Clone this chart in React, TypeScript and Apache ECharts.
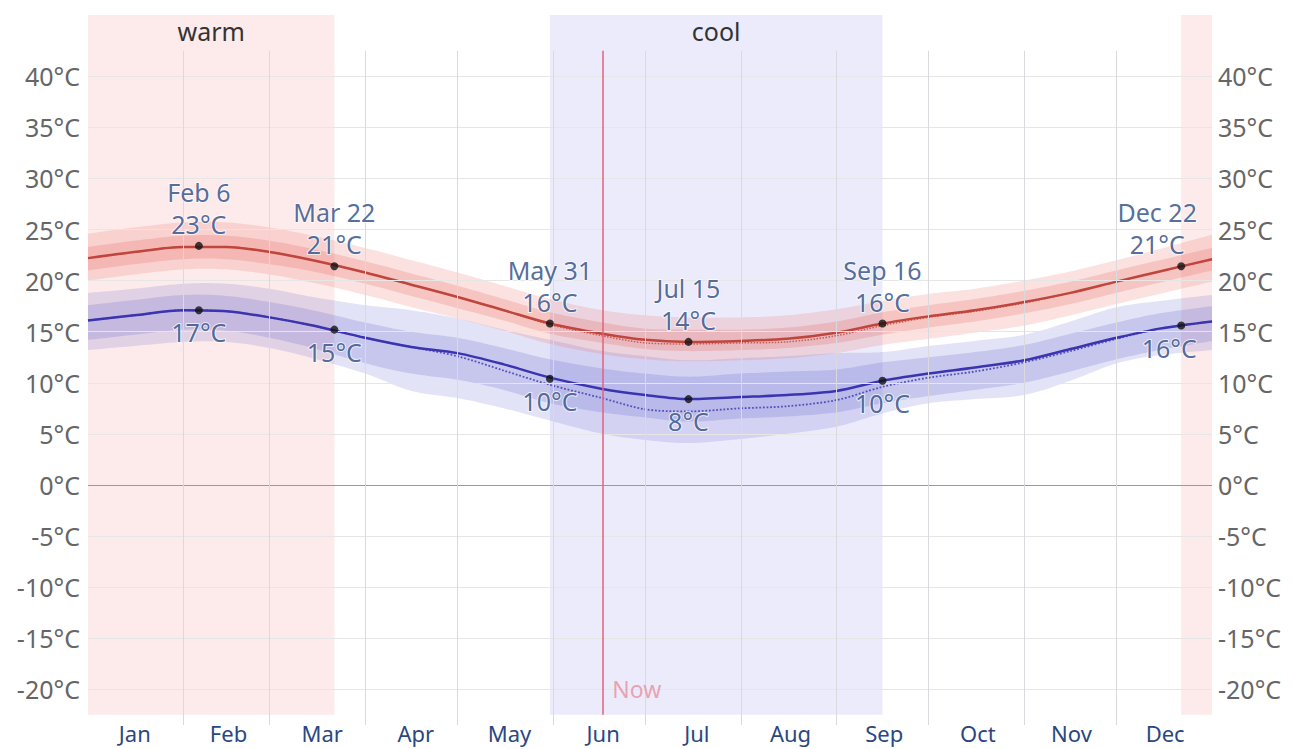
import React, { useEffect, useRef } from "react";
import * as echarts from "echarts";

// ---- data ----
const DAYS = [0, 15, 31, 45, 59, 73, 90, 105, 120, 135, 150, 167, 181, 195, 212, 227, 243, 258, 273, 288, 304, 319, 334, 348, 365];

const HI_MEAN = [22.2, 22.8, 23.3, 23.3, 22.8, 22.0, 20.8, 19.6, 18.4, 17.1, 15.8, 14.8, 14.2, 14.0, 14.1, 14.3, 14.9, 15.8, 16.5, 17.1, 17.9, 18.8, 19.9, 20.9, 22.1];
const HI_RECENT = [22.2, 22.8, 23.3, 23.3, 22.8, 22.0, 20.8, 19.6, 18.4, 17.1, 15.7, 14.6, 13.9, 13.8, 13.9, 14.0, 14.6, 15.6, 16.4, 17.0, 17.8, 18.8, 19.9, 20.9, 22.1];
const HI_P90 = [24.6, 25.2, 25.7, 25.7, 25.2, 24.4, 23.2, 22.0, 20.8, 19.5, 18.2, 17.1, 16.6, 16.4, 16.4, 16.6, 17.2, 18.0, 18.7, 19.2, 20.0, 20.9, 22.0, 23.1, 24.5];
const HI_P75 = [23.3, 23.9, 24.4, 24.4, 23.9, 23.1, 21.9, 20.7, 19.5, 18.2, 16.9, 15.9, 15.3, 15.2, 15.2, 15.4, 16.0, 16.9, 17.6, 18.2, 19.0, 19.9, 21.0, 22.0, 23.2];
const HI_P25 = [21.0, 21.6, 22.1, 22.1, 21.6, 20.9, 19.7, 18.5, 17.3, 16.1, 14.8, 13.9, 13.3, 13.1, 13.2, 13.4, 13.9, 14.7, 15.4, 16.0, 16.8, 17.7, 18.8, 19.8, 21.0];
const HI_P10 = [20.0, 20.6, 21.1, 21.1, 20.6, 19.8, 18.6, 17.4, 16.3, 15.1, 13.8, 12.8, 12.3, 12.1, 12.2, 12.4, 12.9, 13.7, 14.3, 14.9, 15.6, 16.6, 17.7, 18.7, 19.9];

const LO_MEAN = [16.1, 16.6, 17.1, 17.0, 16.4, 15.6, 14.4, 13.5, 12.9, 11.8, 10.5, 9.4, 8.8, 8.4, 8.6, 8.8, 9.2, 10.2, 10.9, 11.5, 12.2, 13.3, 14.4, 15.3, 16.0];
const LO_RECENT = [16.1, 16.6, 17.1, 17.0, 16.4, 15.6, 14.4, 13.5, 12.6, 11.2, 9.8, 8.5, 7.4, 7.2, 7.5, 7.7, 8.3, 9.6, 10.5, 11.1, 12.0, 13.1, 14.3, 15.3, 16.0];
const LO_P90 = [18.8, 19.2, 19.7, 19.7, 19.2, 18.4, 17.6, 17.1, 16.3, 15.2, 14.2, 13.1, 12.6, 12.2, 12.4, 12.6, 12.9, 13.0, 13.6, 14.1, 14.7, 16.0, 17.4, 18.0, 18.6];
const LO_P75 = [17.6, 18.1, 18.6, 18.5, 17.9, 17.1, 15.9, 15.0, 14.4, 13.4, 12.3, 11.4, 10.9, 10.6, 10.9, 11.1, 11.3, 12.0, 12.5, 13.0, 13.7, 14.8, 15.9, 16.8, 17.5];
const LO_P25 = [14.2, 14.7, 15.2, 15.1, 14.4, 13.4, 11.9, 10.9, 10.3, 9.3, 8.0, 7.1, 6.6, 6.2, 6.5, 6.7, 7.1, 8.0, 8.7, 9.3, 10.0, 11.1, 12.3, 13.2, 14.1];
const LO_P10 = [13.2, 13.6, 14.0, 14.0, 13.4, 12.4, 10.9, 9.2, 8.5, 7.5, 6.3, 5.0, 4.4, 4.1, 4.5, 5.0, 5.7, 7.0, 8.0, 8.4, 8.8, 10.2, 11.9, 12.7, 13.2];

const MONTHS = ["Jan", "Feb", "Mar", "Apr", "May", "Jun", "Jul", "Aug", "Sep", "Oct", "Nov", "Dec"];
const MONTH_START_DAYS = [31, 59, 90, 120, 151, 181, 212, 243, 273, 304, 334];
const Y_TICKS = [-20, -15, -10, -5, 0, 5, 10, 15, 20, 25, 30, 35, 40];

const EVENT_DAYS = [36, 80, 150, 195, 258, 355];
const EVENT_DATES = ["Feb 6", "Mar 22", "May 31", "Jul 15", "Sep 16", "Dec 22"];
const EVENT_HI = [23.4, 21.4, 15.8, 14.0, 15.8, 21.4];
const EVENT_LO = [17.1, 15.2, 10.4, 8.4, 10.2, 15.6];

const WARM_RANGES = [[0, 80], [355, 365]];
const COOL_RANGE = [150, 258];
const NOW_DAY = 167;

const Y_MIN = -23.5;
const Y_MAX = 46;
const BAND_BOTTOM = -22.5;
const GRID_TOP = 42.5;

const FONT = "'Noto Sans', 'DejaVu Sans', sans-serif";
const LABEL_BLUE = "#2a4782";

function pairs(vals: number[]) {
  return DAYS.map((d, i) => [d, vals[i]]);
}

// Catmull-Rom smoothing of pixel points (rendering only)
function smoothPixels(p: number[][]) {
  const out: number[][] = [];
  const n = p.length;
  const steps = 10;
  for (let i = 0; i < n - 1; i++) {
    const p0 = p[Math.max(i - 1, 0)];
    const p1 = p[i];
    const p2 = p[i + 1];
    const p3 = p[Math.min(i + 2, n - 1)];
    for (let s = 0; s < steps; s++) {
      const t = s / steps;
      const t2 = t * t;
      const t3 = t2 * t;
      const f = (a: number, b: number, c: number, d: number) =>
        0.5 * (2 * b + (-a + c) * t + (2 * a - 5 * b + 4 * c - d) * t2 + (-a + 3 * b - 3 * c + d) * t3);
      out.push([f(p0[0], p1[0], p2[0], p3[0]), f(p0[1], p1[1], p2[1], p3[1])]);
    }
  }
  out.push(p[n - 1]);
  return out;
}

function band(lower: number[], upper: number[], color: string) {
  return {
    type: "custom",
    coordinateSystem: "cartesian2d",
    data: [[0, 0]],
    silent: true,
    clip: true,
    z: 2,
    renderItem: (_params: any, api: any) => {
      const up = smoothPixels(DAYS.map((d, i) => api.coord([d, upper[i]])));
      const lo = smoothPixels(DAYS.map((d, i) => api.coord([d, lower[i]])));
      return {
        type: "polygon",
        silent: true,
        shape: { points: [...up, ...lo.reverse()] },
        style: { fill: color, stroke: "none" },
      };
    },
  };
}

export default function App() {
  const ref = useRef<HTMLDivElement>(null);

  useEffect(() => {
    if (!ref.current) return;
    const chart = echarts.init(ref.current, null, { renderer: "svg" });

    const labelStyle = {
      fontFamily: FONT,
      fontSize: 25,
      lineHeight: 32,
      color: LABEL_BLUE,
      textBorderColor: "rgba(255,255,255,0.85)",
      textBorderWidth: 2,
    };

    const option: any = {
      animation: false,
      textStyle: { fontFamily: FONT },
      grid: { left: 88, right: 80, top: 15, bottom: 24, containLabel: false },
      xAxis: [
        { type: "value", min: 0, max: 365, show: false },
        {
          type: "category",
          data: MONTHS,
          position: "bottom",
          boundaryGap: true,
          axisLine: { show: false },
          axisTick: { show: false },
          splitLine: { show: false },
          axisLabel: { margin: -3, fontSize: 22, lineHeight: 22, color: LABEL_BLUE, fontFamily: FONT },
        },
      ],
      yAxis: [0, 1].map((k) => ({
        type: "value",
        min: Y_MIN,
        max: Y_MAX,
        interval: 0.5,
        position: k === 0 ? "left" : "right",
        axisLine: { show: false },
        axisTick: { show: false },
        splitLine: { show: false },
        axisLabel: {
          margin: k === 0 ? 8 : 6,
          fontSize: 25,
          color: "#666666",
          fontFamily: FONT,
          formatter: (v: number) =>
            Y_TICKS.some((t) => Math.abs(t - v) < 1e-6) ? `${Math.round(v)}°C` : "",
        },
      })),
      series: [
        // season backgrounds
        {
          type: "scatter",
          data: [[0, 0]],
          symbolSize: 0,
          silent: true,
          z: 0,
          markArea: {
            silent: true,
            data: [
              ...WARM_RANGES.map((r, i) => [
                {
                  coord: [r[0], BAND_BOTTOM],
                  itemStyle: { color: "#fdeaea" },
                  label: {
                    show: i === 0,
                    formatter: "warm",
                    position: "insideTop",
                    distance: 3,
                    fontSize: 25,
                    color: "#333333",
                    fontFamily: FONT,
                  },
                },
                { coord: [r[1], Y_MAX] },
              ]),
              [
                {
                  coord: [COOL_RANGE[0], BAND_BOTTOM],
                  itemStyle: { color: "#ecebfb" },
                  label: {
                    show: true,
                    formatter: "cool",
                    position: "insideTop",
                    distance: 3,
                    fontSize: 25,
                    color: "#333333",
                    fontFamily: FONT,
                  },
                },
                { coord: [COOL_RANGE[1], Y_MAX] },
              ],
            ],
          },
        },
        // grid lines
        {
          type: "scatter",
          data: [[0, 0]],
          symbolSize: 0,
          silent: true,
          z: 1,
          markLine: {
            silent: true,
            symbol: ["none", "none"],
            label: { show: false },
            data: [
              ...Y_TICKS.map((v) => [
                {
                  coord: [0, v],
                  lineStyle: { color: v === 0 ? "#9a9a9a" : "#e6e6e6", width: 1, type: "solid" },
                },
                { coord: [365, v] },
              ]),
              ...MONTH_START_DAYS.map((d) => [
                { coord: [d, Y_MIN], lineStyle: { color: "#d9d9de", width: 1, type: "solid" } },
                { coord: [d, GRID_TOP] },
              ]),
            ],
          },
        },
        // bands
        band(LO_P10, LO_P90, "rgba(100,100,210,0.18)"),
        band(LO_P25, LO_P75, "rgba(90,90,200,0.2)"),
        band(HI_P10, HI_P90, "rgba(235,110,100,0.2)"),
        band(HI_P25, HI_P75, "rgba(225,90,80,0.21)"),
        // recent (dotted)
        {
          type: "line",
          data: pairs(HI_RECENT),
          symbol: "none",
          smooth: 0.3,
          silent: true,
          lineStyle: { color: "#c0453c", width: 1.5, type: "dotted", opacity: 0.8 },
          z: 3,
        },
        {
          type: "line",
          data: pairs(LO_RECENT),
          symbol: "none",
          smooth: 0.3,
          silent: true,
          lineStyle: { color: "#4a44b8", width: 1.8, type: "dotted", opacity: 0.9 },
          z: 3,
        },
        // means
        {
          type: "line",
          data: pairs(HI_MEAN),
          symbol: "none",
          smooth: 0.3,
          silent: true,
          lineStyle: { color: "#c0453c", width: 2.5 },
          z: 4,
        },
        {
          type: "line",
          data: pairs(LO_MEAN),
          symbol: "none",
          smooth: 0.3,
          silent: true,
          lineStyle: { color: "#3b34b0", width: 2.5 },
          z: 4,
        },
        // now line
        {
          type: "scatter",
          data: [[NOW_DAY, -20]],
          symbolSize: 0,
          silent: true,
          z: 5,
          label: {
            show: true,
            position: "right",
            distance: 10,
            formatter: "Now",
            fontSize: 23,
            color: "#e8909c",
            fontFamily: FONT,
          },
          markLine: {
            silent: true,
            symbol: ["none", "none"],
            label: { show: false },
            data: [
              [
                { coord: [NOW_DAY, BAND_BOTTOM], lineStyle: { color: "#e6607a", width: 1.5, type: "solid" } },
                { coord: [NOW_DAY, GRID_TOP] },
              ],
            ],
          },
        },
        // event dots – highs
        {
          type: "scatter",
          symbolSize: 8,
          itemStyle: { color: "#111111" },
          silent: true,
          z: 10,
          data: EVENT_DAYS.map((d, i) => ({
            value: [d, EVENT_HI[i]],
            label: {
              show: true,
              position: "top",
              distance: 2,
              offset: i === EVENT_DAYS.length - 1 ? [-24, 0] : [0, 0],
              formatter: `${EVENT_DATES[i]}\n${Math.round(EVENT_HI[i])}°C`,
              ...labelStyle,
            },
          })),
        },
        // event dots – lows
        {
          type: "scatter",
          symbolSize: 8,
          itemStyle: { color: "#111111" },
          silent: true,
          z: 10,
          data: EVENT_DAYS.map((d, i) => ({
            value: [d, EVENT_LO[i]],
            label: {
              show: true,
              position: "bottom",
              distance: 2,
              offset: i === EVENT_DAYS.length - 1 ? [-12, 0] : [0, 0],
              formatter: `${Math.round(EVENT_LO[i])}°C`,
              ...labelStyle,
            },
          })),
        },
      ],
    };

    chart.setOption(option);
    return () => chart.dispose();
  }, []);

  return (
    <div
      ref={ref}
      style={{ position: "fixed", left: 0, top: 0, width: 1292, height: 749, background: "#ffffff" }}
    />
  );
}
